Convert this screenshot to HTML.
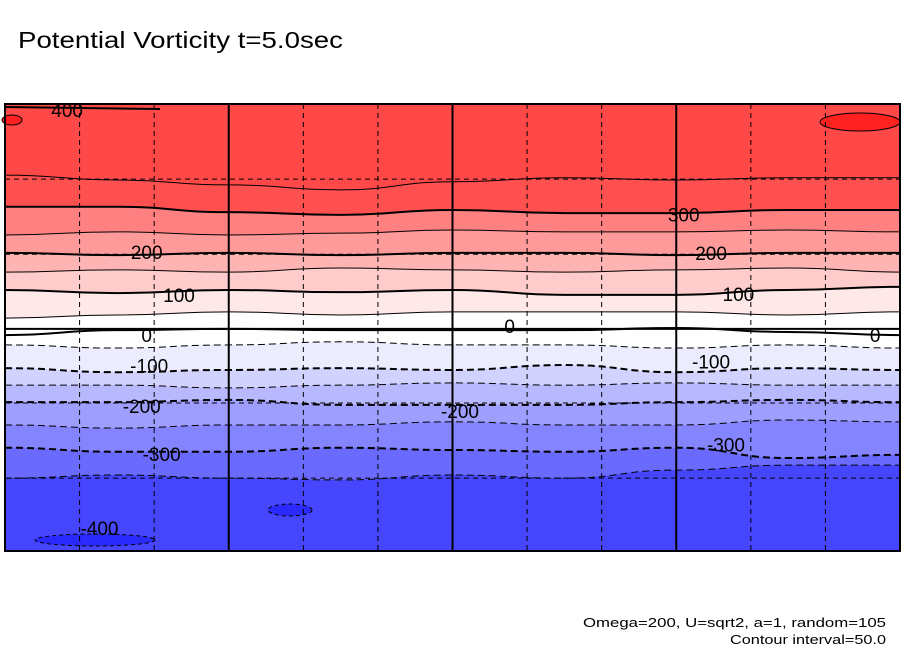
<!DOCTYPE html>
<html><head><meta charset="utf-8">
<style>
body{margin:0;background:#fff;width:904px;height:654px;overflow:hidden;font-family:"Liberation Sans",sans-serif}
svg{position:absolute;left:0;top:0}
</style></head>
<body>
<svg width="904" height="654">
<text x="18" y="48" font-size="23" textLength="325" lengthAdjust="spacingAndGlyphs" font-family="Liberation Sans,sans-serif">Potential Vorticity t=5.0sec</text>
<g id="plot"></g>
<text x="583" y="627" font-size="13" textLength="303" lengthAdjust="spacingAndGlyphs">Omega=200, U=sqrt2, a=1, random=105</text>
<text x="730" y="644" font-size="13" textLength="156" lengthAdjust="spacingAndGlyphs">Contour interval=50.0</text>
</svg>
<script>
// contour levels and their mean row position (fraction of plot height from top) at sample longitudes
const levels=[350,300,250,200,150,100,50,0,-50,-100,-150,-200,-250,-300,-350];
const lons=[0,45,90,135,180,225,270,315,360];
const rows=[
[0.159,0.170,0.181,0.192,0.174,0.165,0.170,0.165,0.165],
[0.230,0.230,0.242,0.248,0.237,0.244,0.244,0.237,0.237],
[0.293,0.286,0.293,0.289,0.282,0.286,0.286,0.282,0.286],
[0.333,0.338,0.333,0.338,0.333,0.333,0.338,0.333,0.333],
[0.376,0.371,0.376,0.367,0.371,0.376,0.371,0.367,0.376],
[0.416,0.423,0.416,0.421,0.416,0.427,0.427,0.416,0.409],
[0.479,0.472,0.465,0.472,0.465,0.465,0.465,0.472,0.465],
[0.517,0.506,0.503,0.506,0.506,0.506,0.501,0.510,0.517],
[0.539,0.546,0.539,0.532,0.539,0.539,0.546,0.539,0.546],
[0.591,0.600,0.595,0.591,0.595,0.584,0.600,0.591,0.595],
[0.629,0.629,0.635,0.629,0.624,0.629,0.624,0.629,0.629],
[0.667,0.667,0.662,0.673,0.673,0.673,0.667,0.662,0.667],
[0.718,0.725,0.718,0.718,0.711,0.718,0.718,0.707,0.711],
[0.769,0.778,0.778,0.769,0.774,0.778,0.769,0.792,0.785],
[0.837,0.830,0.837,0.841,0.830,0.837,0.819,0.808,0.808]];
const bandColors=["#ff4848","#ff5050","#ff8080","#ff9a9a","#ffb4b4","#ffcccc","#ffe8e8","#ffffff","#ffffff","#ececff","#d2d2ff","#b8b8ff","#9e9eff","#8484ff","#6a6aff","#4646ff"];
const labelText=["400","300","200","200","100","100","0","0","0","-100","-100","-200","-200","-300","-300","-400"];
const labelLon=[25,273,57,284,70,295,57,203,350,58,284,55,183,63,290,38];
const labelRow=[0.013,0.247,0.331,0.333,0.427,0.425,0.517,0.497,0.517,0.585,0.576,0.676,0.687,0.783,0.762,0.949];

const X0=5,X1=900,Y0=104,Y1=551;
const xs=l=>X0+(l/360)*(X1-X0);
const ys=r=>Y0+r*(Y1-Y0);
const NS='http://www.w3.org/2000/svg';
const g=document.getElementById('plot');
function mk(t,a){const e=document.createElementNS(NS,t);for(const k in a)e.setAttribute(k,a[k]);g.appendChild(e);return e;}
function linePts(i){return lons.map((l,j)=>[xs(l),ys(rows[i][j])]);}
function smooth(p){let d='M'+p[0][0]+','+p[0][1];for(let k=1;k<p.length;k++){const a=p[k-1],b=p[k];const mx=(a[0]+b[0])/2;d+=' C'+mx+','+a[1]+' '+mx+','+b[1]+' '+b[0]+','+b[1];}return d;}
let bg=mk('rect',{x:X0,y:Y0,width:X1-X0,height:Y1-Y0,fill:bandColors[0]});


for(let i=0;i<levels.length;i++){
  const p=linePts(i);
  const d=smooth(p)+' L'+X1+','+Y1+' L'+X0+','+Y1+' Z';
  const e=mk('path',{d:d,fill:bandColors[i+1]});
  
  
}
const ex=[[860,122,40,9,'#ff2020'],[12,120,10,5,'#ff2020'],[290,510,22,6,'#2a2aff'],[95,540,60,6,'#2a2aff']];
ex.forEach(f=>{const e=mk('ellipse',{cx:f[0],cy:f[1],rx:f[2],ry:f[3],fill:f[4],stroke:'#000','stroke-width':1,'stroke-dasharray':f[1]>300?'4 3':'none'});

});
let topLine=mk('path',{d:'M5,107 L160,109',stroke:'#000','stroke-width':2,fill:'none'});


for(let i=0;i<levels.length;i++){
  const lv=levels[i];
  const e=mk('path',{d:smooth(linePts(i)),fill:'none',stroke:'#000','stroke-width':lv%100===0?2:1});
  if(lv<0)e.setAttribute('stroke-dasharray','7 4');
  
  
}
[30,60,120,150,210,240,300,330].forEach(l=>{mk('line',{x1:xs(l),x2:xs(l),y1:Y0,y2:Y1,stroke:'#000','stroke-width':1,'stroke-dasharray':'5 4'});});
[0.168,0.336,0.669,0.837].forEach(r=>{mk('line',{x1:X0,x2:X1,y1:ys(r),y2:ys(r),stroke:'#000','stroke-width':1,'stroke-dasharray':'5 4'});});
[90,180,270].forEach(l=>{mk('line',{x1:xs(l),x2:xs(l),y1:Y0,y2:Y1,stroke:'#000','stroke-width':2});});
mk('line',{x1:X0,x2:X1,y1:ys(0.503),y2:ys(0.503),stroke:'#000','stroke-width':2});
let fr=mk('rect',{x:X0,y:Y0,width:X1-X0,height:Y1-Y0,fill:'none',stroke:'#000','stroke-width':2});


for(let k=0;k<labelText.length;k++){
  const t=mk('text',{x:xs(labelLon[k]),y:ys(labelRow[k])+7,'font-size':19,'text-anchor':'middle','font-family':'Liberation Sans,sans-serif'});
  t.textContent=labelText[k];
  
  
}
</script>
</body></html>
